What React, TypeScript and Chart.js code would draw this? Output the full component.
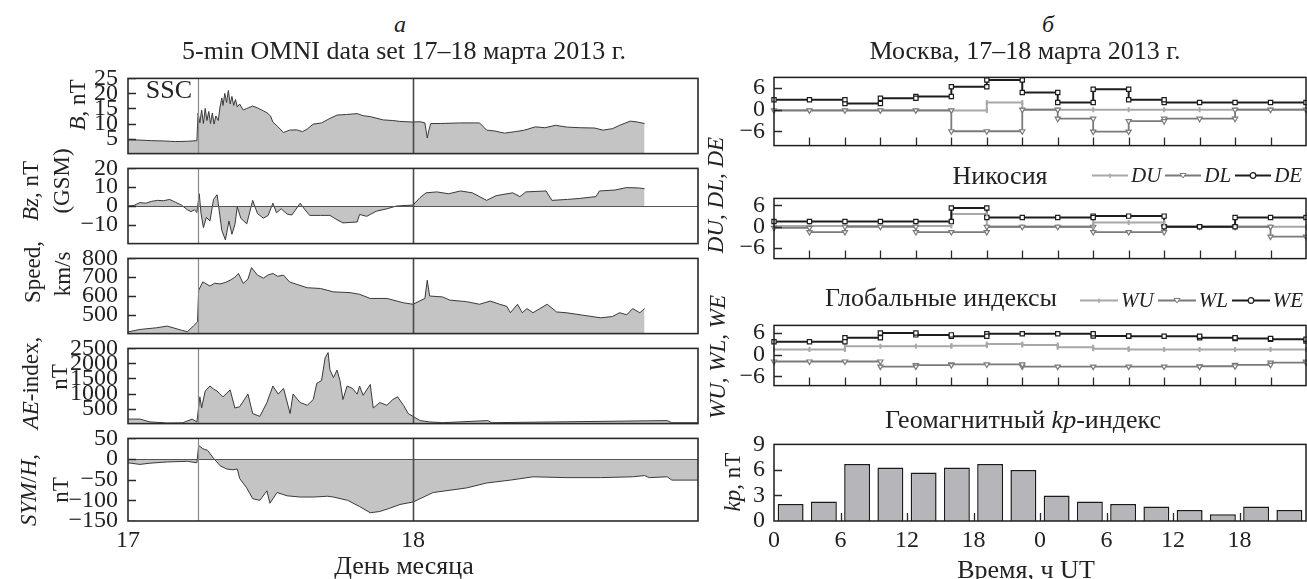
import React, { useEffect, useRef } from 'react';
import { Chart, registerables } from 'chart.js';

Chart.register(...registerables);

const FONT = '"Liberation Serif", "Times New Roman", Times, serif';
const INK = '#222222';
const FILL = '#c4c4c4';
const TRACE = '#3a3a3a';

// ---------------- Panel a: 5-min OMNI (hours since 17 March 00 UT) ----------------
const B_HOURS = [0, 1, 2, 3, 4, 5, 5.8, 5.9, 6.05, 6.2, 6.35, 6.5, 6.65, 6.8, 6.95, 7.1, 7.25, 7.4, 7.6, 7.75, 7.9, 8.0, 8.15, 8.3, 8.45, 8.6, 8.75, 8.9, 9.05, 9.2, 9.4, 9.7, 10.0, 10.5, 10.9, 11.4, 11.7, 12.0, 12.2, 12.6, 13.1, 13.6, 14.2, 14.7, 15.1, 15.6, 16.3, 17.0, 17.6, 18.4, 19.3, 19.8, 20.4, 21.5, 22.3, 22.9, 24.0, 24.6, 25.0, 25.2, 25.35, 25.5, 26.3, 28.0, 29.6, 30.2, 30.9, 31.7, 32.6, 33.4, 34.3, 35.1, 36.0, 37.0, 38.1, 39.3, 40.0, 40.8, 41.4, 42.3, 42.9, 43.5];
const B_NT = [4.6, 4.5, 4.3, 4.2, 4.0, 4.1, 4.3, 13.5, 10.2, 14.5, 10.0, 15.0, 11.0, 14.0, 10.0, 13.5, 9.8, 12.5, 11.0, 15.5, 18.5, 16.0, 20.0, 17.0, 21.0, 16.5, 19.0, 16.0, 18.0, 15.5, 16.5, 14.5, 15.0, 15.8, 15.2, 14.2, 13.6, 12.5, 10.5, 9.0, 7.0, 7.8, 7.9, 7.3, 8.2, 9.8, 10.2, 11.7, 12.8, 13.0, 13.3, 12.6, 12.3, 11.2, 11.0, 10.7, 10.5, 10.6, 10.2, 5.2, 8.0, 10.0, 10.0, 10.2, 10.2, 7.8, 7.5, 6.8, 7.3, 7.8, 8.9, 8.6, 9.4, 8.8, 8.6, 8.5, 7.8, 8.3, 9.4, 10.8, 10.5, 10.0];

const BZ_HOURS = [0, 0.5, 1.0, 1.5, 2.0, 2.5, 3.0, 3.5, 4.0, 4.5, 5.0, 5.3, 5.6, 5.8, 6.0, 6.15, 6.35, 6.6, 6.9, 7.2, 7.5, 7.65, 7.9, 8.2, 8.5, 8.75, 9.0, 9.2, 9.5, 10.0, 10.5, 10.9, 11.4, 11.8, 12.2, 12.5, 12.9, 13.4, 13.8, 14.5, 14.9, 15.3, 16.2, 17.0, 17.6, 18.1, 19.3, 19.5, 20.1, 20.9, 21.8, 22.6, 24.0, 24.6, 25.1, 26.0, 27.0, 28.0, 29.0, 30.2, 31.0, 32.4, 33.0, 33.5, 35.2, 35.7, 37.0, 38.0, 39.4, 39.7, 41.0, 42.0, 43.0, 43.5];
const BZ_NT = [0, 0.3, 1.8, 1.5, 2.5, 3.0, 2.8, 3.5, 2.0, 0.5, -2.0, -3.0, -2.0, -3.5, 6.5, -4.0, -11.5, -6.0, -8.0, 3.5, 6.0, -1.0, -13.0, -18.0, -8.0, -15.0, -10.0, -0.5, -6.5, -9.5, 3.0, -4.0, -6.5, -5.0, 1.5, -3.6, -1.5, -4.3, -4.8, 1.5, -2.0, -5.0, -5.0, -5.0, -7.3, -9.0, -8.5, -4.5, -5.5, -2.8, -1.5, 0, 0.5, 4.5, 7.0, 7.5, 6.5, 8.0, 7.0, 3.0, 5.5, 7.0, 5.0, 7.5, 8.0, 3.0, 3.5, 4.0, 5.0, 8.0, 8.5, 9.8, 9.6, 9.2];

const V_HOURS = [0, 1.0, 2.4, 3.3, 3.8, 4.5, 5.0, 5.5, 5.85, 5.95, 6.3, 6.9, 7.3, 7.75, 8.2, 8.6, 9.0, 9.3, 9.7, 10.1, 10.4, 10.9, 11.4, 11.8, 12.2, 12.6, 13.1, 13.6, 14.3, 15.1, 16.2, 17.3, 18.7, 19.5, 20.4, 21.8, 23.2, 24.0, 25.0, 25.2, 25.4, 26.5, 27.1, 28.5, 29.6, 30.5, 31.3, 31.9, 32.2, 32.8, 33.2, 33.6, 34.1, 35.3, 36.1, 36.9, 38.3, 39.8, 40.8, 41.4, 42.0, 42.5, 43.1, 43.5];
const V_KMS = [409, 422, 431, 440, 431, 418, 410, 440, 462, 631, 675, 653, 668, 664, 672, 684, 700, 720, 667, 690, 751, 711, 695, 712, 720, 705, 711, 675, 660, 644, 640, 622, 618, 609, 587, 587, 564, 556, 587, 684, 600, 595, 578, 570, 556, 573, 556, 545, 511, 556, 511, 533, 511, 556, 515, 511, 498, 484, 491, 511, 500, 533, 511, 533];

const AE_HOURS = [0, 1.0, 1.85, 3.3, 4.6, 5.4, 5.8, 6.05, 6.2, 6.5, 6.9, 7.2, 7.5, 8.0, 8.6, 9.0, 9.4, 10.1, 10.5, 11.1, 11.7, 12.2, 12.65, 13.1, 13.65, 13.9, 14.5, 15.1, 15.6, 15.9, 16.3, 16.6, 16.85, 17.0, 17.3, 17.6, 17.85, 18.1, 18.45, 18.9, 19.3, 19.5, 19.8, 20.4, 20.65, 21.2, 21.8, 22.3, 22.7, 23.2, 23.6, 24.0, 24.6, 25.4, 26.5, 30.3, 30.6, 45.4, 45.8, 48];
const AE_NT = [150, 150, 56, 20, 25, 150, 56, 890, 520, 1080, 1250, 1150, 1080, 890, 1120, 520, 560, 980, 333, 240, 700, 1250, 980, 1170, 333, 980, 700, 610, 800, 1340, 1430, 2190, 2360, 1800, 1530, 1780, 1430, 800, 1250, 1170, 980, 1250, 940, 1300, 520, 700, 610, 800, 890, 610, 333, 240, 100, 56, 30, 100, 30, 100, 30, 30];

const SYM_HOURS = [0, 1.0, 1.85, 3.3, 5.0, 5.8, 5.95, 6.3, 6.7, 7.2, 7.75, 8.3, 8.85, 9.2, 9.4, 10.0, 10.5, 11.1, 11.7, 11.95, 12.55, 13.4, 14.5, 15.6, 16.8, 17.3, 18.5, 19.5, 20.4, 21.2, 22.05, 22.9, 24.0, 25.7, 28.5, 30.2, 32.2, 34.1, 36.9, 39.8, 42.5, 43.5, 43.9, 45.4, 45.8, 48];
const SYM_NT = [-9, -13, -10, -7, -5.5, -9, 33, 25, 21, 2, -16, -24, -26, -24, -47, -70, -96, -100, -77, -107, -81, -89, -92, -92, -90, -92, -100, -115, -130, -127, -119, -110, -104, -81, -70, -58, -51, -43, -45, -45, -43, -40, -45, -43, -51, -51];

const DAY_TICKS = [0, 24];
const DAY_LABELS = ['17', '18'];
const EVENT_SSC = 5.9;
const EVENT_DAY = 24;
const B_TICKS = [5, 10, 15, 20, 25];
const BZ_TICKS = [-10, 0, 10, 20];
const V_TICKS = [500, 600, 700, 800];
const AE_TICKS = [500, 1000, 1500, 2000, 2500];
const SYM_TICKS = [-150, -100, -50, 0, 50];

// ---------------- Panel б: 3-hour indices (hours since 17 March 00 UT) ----------------
const STEP_HOURS = [0, 3, 6, 9, 12, 15, 18, 21, 24, 27, 30, 33, 36, 39, 42, 45];
const MSK_DU = [-0.2, -0.2, -0.2, -0.2, -0.2, -0.2, 2.0, 0, 0, 0, 0, 0, 0, 0, 0, 0];
const MSK_DL = [-0.2, -0.2, -0.2, -0.2, -0.2, -6.0, -6.0, 0, -2.5, -6.1, -3.2, -2.5, -2.5, 0, 0, 0];
const MSK_DE = [2.8, 2.8, 1.7, 3.2, 3.7, 6.4, 8.3, 4.8, 2.0, 5.7, 2.8, 2.0, 2.0, 2.0, 2.0, 2.0];
const NIC_DU = [0.2, 0.2, 0.2, 0.2, 0.2, 3.6, 0, 0, 0, 1.2, 1.2, 0, 0, 0, 0, 0];
const NIC_DL = [-0.3, -1.5, 0, 0, -1.5, -1.5, 0, 0, 0, -1.5, -1.5, 0, 0, 0, -2.8, -2.8];
const NIC_DE = [1.5, 1.5, 1.5, 1.5, 1.5, 5.3, 2.6, 2.6, 2.6, 3.0, 3.0, 0, 0, 2.6, 2.6, 2.6];
const GLB_WU = [1.4, 1.4, 2.3, 2.3, 2.3, 2.4, 2.9, 2.6, 2.0, 1.6, 1.4, 1.4, 1.4, 1.4, 1.4, 1.4];
const GLB_WL = [-1.9, -1.9, -1.9, -3.3, -2.9, -2.7, -2.7, -3.3, -3.3, -3.3, -3.3, -3.3, -3.2, -2.8, -2.2, -1.9];
const GLB_WE = [3.5, 3.5, 4.6, 5.9, 5.4, 5.0, 5.7, 5.7, 5.7, 5.1, 5.0, 5.0, 4.6, 4.4, 4.2, 3.7];
const KP_START_HOURS = [0, 3, 6, 9, 12, 15, 18, 21, 24, 27, 30, 33, 36, 39, 42, 45];
const KP_VALUES = [2.0, 2.3, 6.7, 6.3, 5.7, 6.3, 6.7, 6.0, 3.0, 2.3, 2.0, 1.7, 1.3, 0.8, 1.7, 1.3];
const STEP_INNER_TICKS = [3, 6, 9, 12, 15, 18, 21, 24, 27, 30, 33, 36, 39, 42];
const HOUR_TICKS = [0, 6, 12, 18, 24, 30, 36, 42];
const KP_INNER_TICKS = [6, 12, 18, 24, 30, 36, 42];
const D_TICKS = [-6, 0, 6];
const KP_TICKS = [0, 3, 6, 9];

// ---------------- helpers ----------------
const minus = (v: number) => (v < 0 ? '\u2212' + Math.abs(v) : String(v));

const PAD_L = 112;
const PAD_T = 18;
const PAD_R = 8;

function drawMark(ctx: CanvasRenderingContext2D, style: string, x: number, y: number, r: number) {
  ctx.beginPath();
  if (style === 'rect') {
    const s = r * Math.SQRT1_2;
    ctx.rect(x - s, y - s, 2 * s, 2 * s);
    ctx.fill();
    ctx.stroke();
  } else if (style === 'triangle') {
    ctx.moveTo(x - r * 0.866, y - r * 0.5);
    ctx.lineTo(x + r * 0.866, y - r * 0.5);
    ctx.lineTo(x, y + r);
    ctx.closePath();
    ctx.fill();
    ctx.stroke();
  } else {
    ctx.moveTo(x, y - r);
    ctx.lineTo(x, y + r);
    ctx.stroke();
  }
}

const decoPlugin = {
  id: 'deco',
  afterDraw(chart: any, _a: any, o: any) {
    const { ctx, chartArea: a, scales } = chart;
    const xs = scales.x;
    const ys = scales.y;
    ctx.save();
    ctx.beginPath();
    ctx.rect(a.left, a.top, a.right - a.left, a.bottom - a.top);
    ctx.clip();
    for (const h of o.hlines || []) {
      const y = Math.round(ys.getPixelForValue(h.value)) + 0.5;
      ctx.strokeStyle = h.color;
      ctx.lineWidth = h.width;
      ctx.beginPath();
      ctx.moveTo(a.left, y);
      ctx.lineTo(a.right, y);
      ctx.stroke();
    }
    for (const v of o.vlines || []) {
      const x = Math.round(xs.getPixelForValue(v.value)) + 0.5;
      ctx.strokeStyle = v.color;
      ctx.lineWidth = v.width;
      ctx.beginPath();
      ctx.moveTo(x, a.top);
      ctx.lineTo(x, a.bottom);
      ctx.stroke();
    }
    ctx.strokeStyle = '#2a2a2a';
    ctx.lineWidth = 1.3;
    for (const t of o.xTicks || []) {
      const x = Math.round(xs.getPixelForValue(t)) + 0.5;
      ctx.beginPath();
      ctx.moveTo(x, a.bottom);
      ctx.lineTo(x, a.bottom - o.tickLen);
      ctx.stroke();
    }
    for (const t of o.yTicks || []) {
      const y = Math.round(ys.getPixelForValue(t)) + 0.5;
      ctx.beginPath();
      ctx.moveTo(a.left, y);
      ctx.lineTo(a.left + o.tickLen, y);
      ctx.stroke();
    }
    ctx.restore();
    ctx.save();
    ctx.strokeStyle = o.frameColor || '#222';
    ctx.lineWidth = o.frameWidth || 1.5;
    ctx.strokeRect(a.left, a.top, a.right - a.left, a.bottom - a.top);
    ctx.restore();
  },
};

const echoPlugin = {
  id: 'echo',
  afterDatasetsDraw(chart: any) {
    const { ctx, scales, chartArea: a } = chart;
    chart.data.datasets.forEach((ds: any, i: number) => {
      if (!ds.echo) return;
      const meta = chart.getDatasetMeta(i);
      ctx.save();
      ctx.beginPath();
      ctx.rect(a.left - 6, a.top - 6, a.right - a.left + 12, a.bottom - a.top + 12);
      ctx.clip();
      ctx.strokeStyle = ds.borderColor;
      ctx.fillStyle = '#ffffff';
      ctx.lineWidth = ds.echo === 'line' ? 2 : 1.2;
      for (let k = 1; k < ds.data.length; k++) {
        const prev = ds.data[k - 1].y;
        const cur = ds.data[k].y;
        if (prev === cur) continue;
        drawMark(ctx, ds.echo, meta.data[k].x, scales.y.getPixelForValue(prev), ds.pointRadius);
      }
      ctx.restore();
    });
  },
};

const tickFont = { family: FONT, size: 24 };

function yAxis(min: number, max: number, ticks: number[], pad: number) {
  return {
    type: 'linear',
    min,
    max,
    grid: { display: false, drawTicks: false },
    border: { display: false },
    afterBuildTicks: (s: any) => {
      s.ticks = ticks.map((value) => ({ value }));
    },
    afterFit: (s: any) => {
      s.width = PAD_L;
    },
    ticks: { autoSkip: false, padding: pad, color: INK, font: tickFont, callback: (v: any) => minus(Number(v)) },
  };
}

function xAxis(min: number, max: number, ticks: number[], labels: (v: number, i: number) => string, height: number) {
  return {
    type: 'linear',
    min,
    max,
    offset: false,
    grid: { display: false, drawTicks: false },
    border: { display: false },
    afterBuildTicks: (s: any) => {
      s.ticks = ticks.map((value) => ({ value }));
    },
    afterFit: (s: any) => {
      s.height = height;
    },
    ticks: { autoSkip: false, maxRotation: 0, minRotation: 0, padding: 5, color: INK, font: tickFont, callback: (v: any, i: number) => labels(Number(v), i) },
  };
}

function baseOptions(bottomPad: number) {
  return {
    responsive: false,
    maintainAspectRatio: false,
    animation: false,
    devicePixelRatio: 1,
    events: [],
    layout: { padding: { left: 0, top: PAD_T, right: PAD_R, bottom: bottomPad } },
  };
}

type Box = { l: number; t: number; w: number; h: number; bottom: number };

function omniConfig(box: Box, xs: number[], ys: number[], min: number, max: number, ticks: number[], fill: string, zero: boolean, showX: boolean) {
  return {
    type: 'line',
    data: {
      datasets: [
        {
          data: xs.map((x, i) => ({ x, y: ys[i] })),
          borderColor: TRACE,
          borderWidth: 1,
          pointRadius: 0,
          fill,
          backgroundColor: FILL,
          tension: 0,
        },
      ],
    },
    options: {
      ...baseOptions(showX ? 0 : box.bottom),
      scales: {
        x: showX
          ? xAxis(0, 48, DAY_TICKS, (_v, i) => DAY_LABELS[i], box.bottom)
          : { type: 'linear', min: 0, max: 48, display: false },
        y: yAxis(min, max, ticks, 10),
      },
      plugins: {
        legend: { display: false },
        tooltip: { enabled: false },
        deco: {
          hlines: zero ? [{ value: 0, color: '#555', width: 1.2 }] : [],
          vlines: [
            { value: EVENT_SSC, color: '#8c8c8c', width: 1.2 },
            { value: EVENT_DAY, color: '#4a4a4a', width: 1.6 },
          ],
          yTicks: ticks,
          xTicks: [],
          tickLen: 8,
          frameColor: '#2a2a2a',
          frameWidth: 1.6,
        },
      },
    },
    plugins: [decoPlugin],
  };
}

const STEP_STYLE: Record<string, any> = {
  U: { color: '#a8a8a8', width: 2, point: 'line', rot: 90, r: 2.5 },
  L: { color: '#7a7a7a', width: 1.8, point: 'triangle', rot: 180, r: 3 },
  E: { color: '#1c1c1c', width: 2, point: 'rect', rot: 0, r: 3 },
};

function stepSet(values: number[], kind: string) {
  const st = STEP_STYLE[kind];
  return {
    data: STEP_HOURS.map((h, i) => ({ x: h, y: values[i] })),
    stepped: 'before',
    borderColor: st.color,
    borderWidth: st.width,
    pointStyle: st.point,
    rotation: st.rot,
    pointRadius: st.r,
    pointBorderWidth: st.point === 'line' ? 2 : 1.2,
    pointBackgroundColor: '#ffffff',
    pointBorderColor: st.color,
    fill: false,
    clip: 6,
    echo: st.point,
  };
}

function stepConfig(box: Box, e: number[], l: number[], u: number[], min: number, max: number) {
  return {
    type: 'line',
    data: { datasets: [stepSet(e, 'E'), stepSet(l, 'L'), stepSet(u, 'U')] },
    options: {
      ...baseOptions(box.bottom),
      scales: {
        x: { type: 'linear', min: 0, max: 45, display: false },
        y: yAxis(min, max, D_TICKS, 9),
      },
      plugins: {
        legend: { display: false },
        tooltip: { enabled: false },
        deco: { xTicks: STEP_INNER_TICKS, yTicks: D_TICKS, tickLen: 8, frameColor: '#1e1e1e', frameWidth: 1.5 },
      },
    },
    plugins: [decoPlugin, echoPlugin],
  };
}

function kpConfig(box: Box) {
  return {
    type: 'bar',
    data: {
      datasets: [
        {
          data: KP_START_HOURS.map((h, i) => ({ x: h + 1.5, y: KP_VALUES[i] })),
          backgroundColor: '#b6b6ba',
          borderColor: '#1a1a1a',
          borderWidth: 1.5,
          barPercentage: 0.78,
          categoryPercentage: 1,
        },
      ],
    },
    options: {
      ...baseOptions(0),
      scales: {
        x: xAxis(0, 48, HOUR_TICKS, (v) => String(v % 24), box.bottom),
        y: yAxis(0, 9, KP_TICKS, 9),
      },
      plugins: {
        legend: { display: false },
        tooltip: { enabled: false },
        deco: { xTicks: KP_INNER_TICKS, yTicks: [3, 6], tickLen: 8, frameColor: '#1e1e1e', frameWidth: 1.5 },
      },
    },
    plugins: [decoPlugin],
  };
}

const A_L = 128;
const A_W = 570;
const R_L = 774;
const R_W = 532;

const PANELS: { box: Box; build: (b: Box) => any }[] = [
  { box: { l: A_L, t: 72, w: A_W, h: 90, bottom: 16 }, build: (b) => omniConfig(b, B_HOURS, B_NT, 0, 25, B_TICKS, 'origin', false, false) },
  { box: { l: A_L, t: 162, w: A_W, h: 90, bottom: 16 }, build: (b) => omniConfig(b, BZ_HOURS, BZ_NT, -20, 20, BZ_TICKS, 'origin', true, false) },
  { box: { l: A_L, t: 252, w: A_W, h: 90, bottom: 16 }, build: (b) => omniConfig(b, V_HOURS, V_KMS, 400, 800, V_TICKS, 'start', false, false) },
  { box: { l: A_L, t: 342, w: A_W, h: 90, bottom: 16 }, build: (b) => omniConfig(b, AE_HOURS, AE_NT, 0, 2500, AE_TICKS, 'origin', false, false) },
  { box: { l: A_L, t: 432, w: A_W, h: 89, bottom: 44 }, build: (b) => omniConfig(b, SYM_HOURS, SYM_NT, -150, 50, SYM_TICKS, 'origin', true, true) },
  { box: { l: R_L, t: 72, w: R_W, h: 81, bottom: 16 }, build: (b) => stepConfig(b, MSK_DE, MSK_DL, MSK_DU, -10, 9) },
  { box: { l: R_L, t: 193, w: R_W, h: 73, bottom: 16 }, build: (b) => stepConfig(b, NIC_DE, NIC_DL, NIC_DU, -9, 8) },
  { box: { l: R_L, t: 320, w: R_W, h: 73, bottom: 16 }, build: (b) => stepConfig(b, GLB_WE, GLB_WL, GLB_WU, -8.5, 8) },
  { box: { l: R_L, t: 439, w: R_W, h: 82, bottom: 44 }, build: (b) => kpConfig(b) },
];

// ---------------- text helpers ----------------
function Txt(props: { x: number; y: number; size: number; rot?: boolean; italic?: boolean; children: any }) {
  return (
    <div
      style={{
        position: 'absolute',
        left: props.x,
        top: props.y,
        transform: props.rot ? 'translate(-50%,-50%) rotate(-90deg)' : 'translate(-50%,-50%)',
        fontSize: props.size,
        fontStyle: props.italic ? 'italic' : 'normal',
        lineHeight: 1,
        whiteSpace: 'nowrap',
      }}
    >
      {props.children}
    </div>
  );
}

function LegendRow(props: { left: number; y: number; items: { label: string; kind: string }[]; lineW: number }) {
  return (
    <div
      style={{
        position: 'absolute',
        left: props.left,
        top: props.y,
        transform: 'translateY(-50%)',
        display: 'flex',
        alignItems: 'center',
        fontSize: 21,
        fontStyle: 'italic',
        lineHeight: 1,
        whiteSpace: 'nowrap',
      }}
    >
      {props.items.map((it) => {
        const st = STEP_STYLE[it.kind];
        const w = props.lineW;
        const c = w / 2;
        return (
          <React.Fragment key={it.label}>
            <svg width={w} height={12} style={{ display: 'block' }}>
              <line x1={0} y1={6} x2={w} y2={6} stroke={st.color} strokeWidth={2} />
              {it.kind === 'U' && <line x1={c} y1={4} x2={c} y2={8.5} stroke={st.color} strokeWidth={1.5} />}
              {it.kind === 'L' && <polygon points={`${c - 3},4 ${c + 3},4 ${c},8.5`} fill="#fff" stroke={st.color} strokeWidth={1} />}
              {it.kind === 'E' && <circle cx={c} cy={6} r={2.8} fill="#fff" stroke={st.color} strokeWidth={1.2} />}
            </svg>
            <span style={{ margin: '0 4px 0 3px' }}>{it.label}</span>
          </React.Fragment>
        );
      })}
    </div>
  );
}

export default function App() {
  const refs = useRef<(HTMLCanvasElement | null)[]>([]);
  useEffect(() => {
    document.body.style.margin = '0';
    Chart.defaults.font.family = FONT;
    Chart.defaults.color = INK;
    const charts = PANELS.map((p, i) => new Chart(refs.current[i] as HTMLCanvasElement, p.build(p.box) as any));
    return () => charts.forEach((c) => c.destroy());
  }, []);

  return (
    <div
      style={{
        position: 'fixed',
        left: 0,
        top: 0,
        width: 1307,
        height: 579,
        background: '#ffffff',
        overflow: 'hidden',
        fontFamily: FONT,
        color: INK,
      }}
    >
      {PANELS.map((p, i) => {
        const W = PAD_L + p.box.w + PAD_R;
        const H = PAD_T + p.box.h + p.box.bottom;
        return (
          <canvas
            key={i}
            ref={(el) => {
              refs.current[i] = el;
            }}
            width={W}
            height={H}
            style={{ position: 'absolute', left: p.box.l - PAD_L, top: p.box.t - PAD_T, width: W, height: H }}
          />
        );
      })}

      {/* panel a */}
      <Txt x={400} y={24} size={24} italic>а</Txt>
      <Txt x={404} y={51} size={26}>5-min OMNI data set 17–18 марта 2013 г.</Txt>
      <Txt x={169} y={90} size={26}>SSC</Txt>
      <Txt x={404} y={566} size={26}>День месяца</Txt>
      <Txt x={77} y={105} size={23} rot><i>B</i>, nT</Txt>
      <Txt x={30} y={191} size={23} rot><i>Bz</i>, nT</Txt>
      <Txt x={61} y={181} size={23} rot>(GSM)</Txt>
      <Txt x={32} y={272} size={23} rot>Speed,</Txt>
      <Txt x={62} y={274} size={23} rot>km/s</Txt>
      <Txt x={30} y={383} size={23} rot><i>AE</i>-index,</Txt>
      <Txt x={59} y={377} size={23} rot>nT</Txt>
      <Txt x={28} y={490} size={23} rot><i>SYM</i>/<i>H</i>,</Txt>
      <Txt x={60} y={490} size={23} rot>nT</Txt>

      {/* panel б */}
      <Txt x={1048} y={24} size={24} italic>б</Txt>
      <Txt x={1025} y={51} size={26}>Москва, 17–18 марта 2013 г.</Txt>
      <Txt x={1000} y={176} size={26}>Никосия</Txt>
      <LegendRow
        left={1092}
        y={175}
        lineW={36}
        items={[
          { label: 'DU', kind: 'U' },
          { label: 'DL', kind: 'L' },
          { label: 'DE', kind: 'E' },
        ]}
      />
      <Txt x={941} y={298} size={26}>Глобальные индексы</Txt>
      <LegendRow
        left={1080}
        y={300}
        lineW={38}
        items={[
          { label: 'WU', kind: 'U' },
          { label: 'WL', kind: 'L' },
          { label: 'WE', kind: 'E' },
        ]}
      />
      <Txt x={1023} y={420} size={26}>Геомагнитный <i>kp</i>-индекс</Txt>
      <Txt x={1026} y={570} size={26}>Время, ч UT</Txt>
      <Txt x={715} y={195} size={23} rot italic>DU, DL, DE</Txt>
      <Txt x={717} y={357} size={23} rot italic>WU, WL, WE</Txt>
      <Txt x={732} y={482} size={23} rot><i>kp</i>, nT</Txt>
    </div>
  );
}
